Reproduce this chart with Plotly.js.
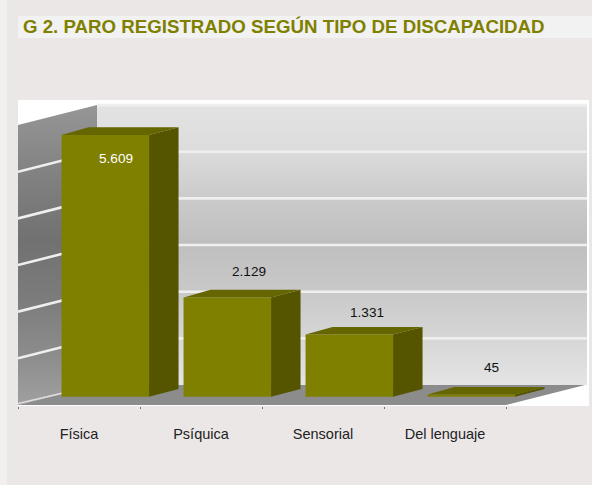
<!DOCTYPE html>
<html>
<head>
<meta charset="utf-8">
<script src="https://cdn.plot.ly/plotly-3.0.1.min.js"></script>
<style>html,body{margin:0;padding:0;background:#ece7e7;overflow:hidden}#c{width:592px;height:485px}</style>
</head>
<body>
<div id="c"></div>
<script>
var titleText = 'G 2. PARO REGISTRADO SEGÚN TIPO DE DISCAPACIDAD';
var categories = ['Física', 'Psíquica', 'Sensorial', 'Del lenguaje'];
var values = [5609, 2129, 1331, 45];
var valueLabels = ['5.609', '2.129', '1.331', '45'];
var gridValues = [1000, 2000, 3000, 4000, 5000, 6000];
var labelColors = ['#ffffff', '#111111', '#111111', '#111111'];
var labelShiftsY = [-23, 25.5, 22, 27];
var labelShiftsX = [11, 22, 18, 20.5];
// wall shading from the top of the wall (0) to its foot (1)
var backWallStops = [[0, '#e3e3e3'], [0.16, '#dcdcdc'], [0.33, '#cbcbcb'], [0.49, '#bfbfbf'], [0.66, '#c8c8c8'], [0.83, '#d6d6d6'], [1, '#e4e4e4']];
var sideWallStops = [[0, '#969696'], [0.25, '#808080'], [0.45, '#717171'], [0.65, '#7c7c7c'], [0.85, '#8e8e8e'], [1, '#a0a0a0']];

var W = 592, H = 485;
var plotL = 18, plotR = 589, plotT = 100, plotB = 406;
var pxPerCat = 122, pxPerVal = 0.04665, zeroPx = 405;
var px = function (p) { return p / pxPerCat; };
var pv = function (p) { return p / pxPerVal; };
var paperX = function (p) { return (p - plotL) / (plotR - plotL); };
var paperY = function (p) { return (plotB - p) / (plotB - plotT); };

var xRange = [-0.5, -0.5 + px(plotR - plotL)];
var yRange = [pv(zeroPx - plotB), pv(zeroPx - plotT)];

// room depth
var roomDx = px(79), roomDy = pv(20);
var xL = -0.5, xEnd = xRange[1] - px(2);
var floorFrontEnd = 3.5;
var wallTop = gridValues[gridValues.length - 1];

// bar geometry
var barOffset = px(26.3), barW = px(87.5), barBase = pv(8.3);
var depthL = px(27), depthR = px(29.5), depthY = pv(7.7);

var traces = [];
// back wall
traces.push({
  x: [xL + roomDx, xEnd, xEnd, xL + roomDx, xL + roomDx],
  y: [roomDy, roomDy, wallTop + roomDy, wallTop + roomDy, roomDy],
  mode: 'none', fill: 'toself', hoverinfo: 'skip', showlegend: false,
  fillgradient: {type: 'vertical', start: wallTop + roomDy, stop: roomDy, colorscale: backWallStops}
});
// left wall
traces.push({
  x: [xL, xL + roomDx, xL + roomDx, xL, xL],
  y: [0, roomDy, wallTop + roomDy, wallTop, 0],
  mode: 'none', fill: 'toself', hoverinfo: 'skip', showlegend: false,
  fillgradient: {type: 'vertical', start: wallTop + roomDy, stop: 0, colorscale: sideWallStops}
});
// floor
traces.push({
  x: [xL, floorFrontEnd, floorFrontEnd + roomDx, xL + roomDx, xL],
  y: [0, 0, roomDy, roomDy, 0],
  mode: 'none', fill: 'toself', fillcolor: '#8c8c8c', hoverinfo: 'skip', showlegend: false
});
// grid lines
gridValues.forEach(function (v, i) {
  var isTop = i === gridValues.length - 1;
  traces.push({
    x: isTop ? [xL + roomDx, xEnd] : [xL, xL + roomDx, xEnd],
    y: isTop ? [v + roomDy, v + roomDy] : [v, v + roomDy, v + roomDy],
    mode: 'lines', line: {color: '#efefef', width: 2.6}, hoverinfo: 'skip', showlegend: false
  });
});
// floor-level line on the left wall
traces.push({
  x: [xL, xL + roomDx], y: [pv(1.5), roomDy],
  mode: 'lines', line: {color: '#dedede', width: 1.6}, hoverinfo: 'skip', showlegend: false
});

// front faces
var centers = values.map(function (_, i) { return i + barOffset; });
traces.push({
  type: 'bar', x: centers, y: values, base: barBase, width: barW,
  marker: {color: '#808000', line: {width: 0}}, xaxis: 'x2', yaxis: 'y2',
  hoverinfo: 'skip', showlegend: false
});
values.forEach(function (v, i) {
  var l = centers[i] - barW / 2, r = centers[i] + barW / 2;
  var t = v + barBase, b = barBase;
  // top face
  traces.push({
    x: [l, r, r + depthR, l + depthL, l], y: [t, t, t + depthY, t + depthY, t],
    mode: 'none', fill: 'toself', fillcolor: '#666600', xaxis: 'x2', yaxis: 'y2',
    hoverinfo: 'skip', showlegend: false
  });
  // side face
  traces.push({
    x: [r, r + depthR, r + depthR, r, r], y: [b, b + depthY, t + depthY, t, b],
    mode: 'none', fill: 'toself', fillcolor: '#555500', xaxis: 'x2', yaxis: 'y2',
    hoverinfo: 'skip', showlegend: false
  });
});

var annotations = values.map(function (v, i) {
  return {
    x: centers[i] + px(labelShiftsX[i]), y: v + barBase, xref: 'x2', yref: 'y2',
    text: valueLabels[i], showarrow: false, yshift: labelShiftsY[i],
    font: {family: 'Liberation Sans, Arial, sans-serif', size: 13.6, color: labelColors[i]},
    xanchor: 'center', yanchor: 'middle'
  };
});
annotations.push({
  x: paperX(21), y: paperY(27), xref: 'paper', yref: 'paper', xanchor: 'left', yanchor: 'middle',
  text: '<b>' + titleText + '</b>', showarrow: false,
  font: {family: 'Liberation Sans, Arial, sans-serif', size: 18.7, color: '#808000'}
});

var layout = {
  width: W, height: H,
  margin: {l: plotL, r: W - plotR, t: plotT, b: H - plotB, pad: 0},
  paper_bgcolor: '#ece7e7', plot_bgcolor: '#ffffff',
  showlegend: false,
  xaxis: {
    range: xRange, tickmode: 'array', tickvals: [0, 1, 2, 3], ticktext: categories,
    showgrid: false, zeroline: false, showline: false, ticks: '', ticklabelstandoff: 17,
    tickfont: {family: 'Liberation Sans, Arial, sans-serif', size: 14.5, color: '#222222'}, fixedrange: true
  },
  yaxis: {range: yRange, showgrid: false, zeroline: false, showline: false, showticklabels: false, ticks: '', fixedrange: true},
  xaxis2: {
    range: xRange, overlaying: 'x', side: 'bottom', tickmode: 'array', tickvals: [-0.5, 0.5, 1.5, 2.5, 3.5],
    showticklabels: false, ticks: 'outside', ticklen: 2, tickwidth: 1, tickcolor: '#777777',
    showgrid: false, zeroline: false, showline: false, fixedrange: true
  },
  yaxis2: {range: yRange, overlaying: 'y', visible: false, fixedrange: true},
  shapes: [
    {type: 'rect', xref: 'paper', yref: 'paper', layer: 'below',
     x0: paperX(18), x1: paperX(W), y0: paperY(16), y1: paperY(38), fillcolor: '#f2f2f2', line: {width: 0}},
    {type: 'rect', xref: 'paper', yref: 'paper', layer: 'below',
     x0: paperX(0), x1: paperX(7), y0: paperY(0), y1: paperY(H), fillcolor: '#f2efef', line: {width: 0}}
  ],
  annotations: annotations
};

Plotly.newPlot('c', traces, layout, {displayModeBar: false, staticPlot: true});
</script>
</body>
</html>
